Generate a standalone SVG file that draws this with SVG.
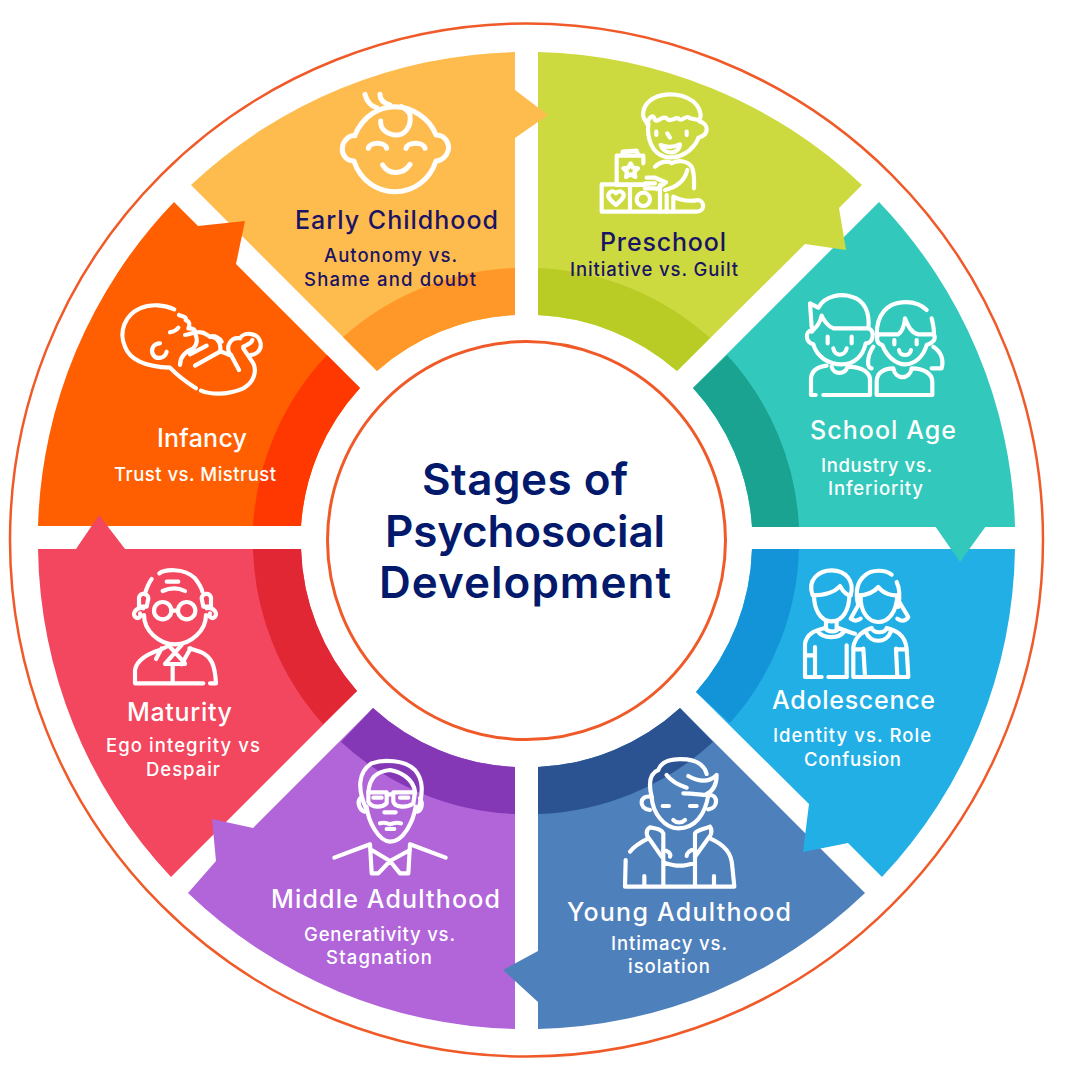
<svg xmlns="http://www.w3.org/2000/svg" width="1081" height="1081" viewBox="0 0 1081 1081">
<style>
text{font-family:Inter,"Liberation Sans",sans-serif;text-anchor:start}
.h{font-size:25px;font-weight:500}
.s{font-size:18.5px;font-weight:500}
.t{font-size:44px;font-weight:600;fill:#03196b}
.d{fill:#1b1464}
.w{fill:#fff}
.i{fill:none;stroke:#fff;stroke-width:12.5;stroke-linecap:round;stroke-linejoin:round}
</style>
<rect width="1081" height="1081" fill="#fff"/>
<circle cx="526.5" cy="540" r="516.5" fill="none" stroke="#f05a28" stroke-width="2.5"/>

<g id="school-age">
<path fill="#32c9bc" d="M879,202A488.5,488.5 0 0 1 1015,527H752A226,226 0 0 0 693,388Z"/>
<path fill="#1aa391" d="M727,355A273,273 0 0 1 799,527H752A226,226 0 0 0 693,388Z"/>
<g class="i" transform="translate(795,285) scale(.3333)">
<path d="M50,125L45,55L70,68C90,30 140,25 170,35C210,45 225,85 220,130H115C100,125 85,105 80,92C75,115 65,125 50,140"/>
<path d="M50,135C30,140 30,170 55,178C65,215 100,238 140,238C180,238 205,210 212,175C235,175 240,140 222,130"/>
<path d="M98,155V175M170,155V175M115,190C118,215 150,215 155,190"/>
<path d="M62,330H48V280C50,255 70,245 95,242M110,245C115,270 150,270 158,245C190,245 220,255 225,280V330H85"/>
<path d="M395,75C370,50 340,50 320,52C280,55 245,85 245,150M410,100C415,120 417,130 417,145M245,148H310C320,140 328,125 330,100C340,125 350,145 370,148H417"/>
<path d="M250,148C240,165 250,178 262,180C275,215 305,238 330,238C360,238 385,215 395,180C410,175 425,165 417,148"/>
<path d="M298,165V178M365,165V178M312,195C315,215 345,215 348,195"/>
<path d="M235,185C215,215 215,250 230,250M415,185C445,205 445,230 440,250H410"/>
<path d="M245,330V290C245,265 265,250 295,250C300,285 345,285 350,250C385,250 412,265 412,290V330Z"/>
</g>
<text class="h w" x="810" y="439" textLength="146">School Age</text>
<text class="s w" x="821" y="472" textLength="111">Industry vs.</text>
<text class="s w" x="828" y="495" textLength="95">Inferiority</text>
</g>

<g id="preschool">
<path fill="#cdda3f" d="M538,52A488.5,488.5 0 0 1 862,185L839,208L846,250L805,244L677,371A226,226 0 0 0 538,315Z"/>
<path fill="#b9cc26" d="M538,268A273,273 0 0 1 710,338L677,371A226,226 0 0 0 538,315Z"/>
<g class="i" transform="translate(590,85) scale(.3333)">
<path d="M175,115C150,100 155,60 190,40C230,20 290,25 320,60C335,80 335,100 325,105"/>
<path d="M170,115C180,95 190,85 195,105C205,115 215,90 230,100C240,115 255,95 265,100C275,115 290,85 300,100L325,105"/>
<path d="M175,115C170,160 185,205 225,215C270,225 310,195 325,160M330,110C355,115 360,150 325,158"/>
<path d="M199,140V150M290,140V150M232,145L240,158M212,180C235,190 255,185 270,178C270,205 225,215 212,180Z"/>
<path d="M80,300V212H160V235M98,210V200L140,197L145,210M80,300H160"/>
<path d="M122,235L129,248L144,250L133,261L136,276L122,268L108,276L111,261L100,250L115,248Z"/>
<path d="M35,298H120V380H35ZM120,380H320C345,380 345,350 325,345C300,350 270,345 250,335V380M120,298H175"/>
<path d="M78,360C60,345 50,335 57,325C65,315 75,320 78,325C82,320 92,315 100,325C105,335 95,345 78,360Z"/>
<circle cx="160" cy="343" r="20"/>
<path d="M210,300V380M230,330V380M195,245C210,230 235,225 245,235C260,225 290,225 305,245C315,265 312,290 312,310M292,255C285,285 265,305 225,315"/>
<path d="M170,278H195C210,285 222,290 228,292L200,312M165,295H195M165,310H195"/>
</g>
<text class="h d" x="600" y="251" textLength="126">Preschool</text>
<text class="s d" x="570" y="276" textLength="168">Initiative vs. Guilt</text>
</g>

<g id="early-childhood">
<path fill="#ffbc4e" d="M515,52A488.5,488.5 0 0 0 191,185L377,371A226,226 0 0 1 515,315V138L548,115L515,90Z"/>
<path fill="#ff9828" d="M515,268A273,273 0 0 0 343,337L377,371A226,226 0 0 1 515,315Z"/>
<g class="i" style="stroke-width:15" transform="translate(330,85) scale(.3333)">
<path d="M75,150C100,90 150,65 195,65C245,65 300,100 318,150C350,150 358,180 355,195C350,215 335,228 318,228C300,285 250,320 195,320C140,320 90,285 72,228C50,228 35,210 37,190C38,165 60,150 75,152"/>
<path d="M152,108C150,135 175,150 200,150C225,150 245,125 240,90C235,75 225,70 215,65M105,28C110,50 125,65 140,68M150,28C150,45 160,55 180,60"/>
<path d="M115,190C120,170 165,170 170,190M228,190C235,170 280,170 285,190M158,240C175,270 220,270 240,238"/>
</g>
<text class="h d" x="295" y="229" textLength="203">Early Childhood</text>
<text class="s d" x="324" y="262" textLength="133">Autonomy vs.</text>
<text class="s d" x="304" y="286" textLength="172">Shame and doubt</text>
</g>

<g id="infancy">
<path fill="#ff5f00" d="M38,526A488.5,488.5 0 0 1 174,202L198,226L245,221L236,264L360,388A226,226 0 0 0 301,526Z"/>
<path fill="#ff3700" d="M253,526A273,273 0 0 1 327,355L360,388A226,226 0 0 0 301,526Z"/>
<g class="i" transform="translate(115,295) scale(.3333)">
<path d="M178,43C150,30 110,25 75,40C30,60 10,110 30,155C45,195 90,215 165,218C190,245 215,262 243,280"/>
<path d="M258,287C290,300 340,300 385,280C420,260 425,225 415,205L385,160"/>
<path d="M192,60C205,65 215,65 212,75C225,80 225,90 220,100C235,100 240,105 240,110M210,120C225,118 240,110 250,112C265,108 275,120 285,125C300,120 315,130 320,140"/>
<path d="M165,112C175,110 185,105 190,98M135,145C115,145 105,165 115,180C125,195 150,190 155,170"/>
<path d="M240,115C250,135 245,150 235,160C210,170 195,185 195,210M275,152L225,178M240,212L315,170C325,170 335,178 345,180"/>
<path d="M345,180C330,150 350,125 375,130C385,110 430,110 437,145C440,170 420,180 405,180M347,178L372,225M385,155C395,150 410,145 412,135M285,125C310,125 320,150 315,170"/>
</g>
<text class="h w" x="157" y="447" textLength="90">Infancy</text>
<text class="s w" x="114" y="481" textLength="162">Trust vs. Mistrust</text>
</g>

<g id="maturity">
<path fill="#f2475e" d="M38,549H76L99,515L125,549H301A226,226 0 0 0 357,691L171,877A488.5,488.5 0 0 1 38,549Z"/>
<path fill="#e12733" d="M253,549H301A226,226 0 0 0 357,691L323,724A273,273 0 0 1 253,549Z"/>
<g class="i" transform="translate(120,565) scale(.3333)">
<path d="M118,25C130,15 190,5 225,40C240,60 245,70 247,80M95,42C85,55 80,70 75,85M140,50H175M128,78C150,68 175,68 195,78"/>
<path d="M57,125V98C60,80 85,85 85,100L80,125ZM70,130C50,125 35,145 45,155C55,165 65,155 60,145"/>
<path d="M273,125V98C270,80 245,85 245,100L250,125ZM260,130C280,125 295,145 285,155C275,165 265,155 270,145"/>
<circle cx="128" cy="137" r="26"/><circle cx="200" cy="137" r="26"/>
<path d="M154,137H174M72,150C72,195 115,238 165,238C215,238 258,195 258,150"/>
<path d="M45,355V315C50,285 85,265 120,255L150,240M125,250L108,282M145,240L195,295M185,240L135,297H195M158,300V355M208,250L240,260C275,275 285,300 288,355H270M212,250L185,298M45,355H250"/>
</g>
<text class="h w" x="127" y="721" textLength="105">Maturity</text>
<text class="s w" x="106" y="752" textLength="154">Ego integrity vs</text>
<text class="s w" x="146" y="776" textLength="74">Despair</text>
</g>

<g id="middle-adulthood">
<path fill="#b165d9" d="M515,1029A488.5,488.5 0 0 1 188,893L216,861L212,819L253,828L373,708A226,226 0 0 0 515,767Z"/>
<path fill="#8438b5" d="M515,814A273,273 0 0 1 341,742L373,708A226,226 0 0 0 515,767Z"/>
<g class="i" transform="translate(325,755) scale(.3333)">
<path d="M125,165C95,100 100,50 140,25C175,12 240,15 270,45C295,75 295,110 280,165M130,110C135,70 150,50 195,45C225,50 265,70 270,110"/>
<path d="M130,112H185V145C170,160 140,158 130,140ZM205,112H270L265,145C245,160 210,158 205,140ZM185,118H205M145,128H170M225,128H250"/>
<path d="M105,130C95,145 105,165 118,170M285,130C295,145 290,165 278,170M125,155C130,200 160,258 195,260C235,260 265,200 272,155"/>
<path d="M178,172H212M165,205C180,200 185,205 195,208C205,205 215,200 228,205M185,222H208"/>
<path d="M28,308L135,268M362,308L255,268M135,268L140,355L160,355L195,318L225,355H250L255,268M140,285L195,318L255,285"/>
</g>
<text class="h w" x="271" y="908" textLength="229">Middle Adulthood</text>
<text class="s w" x="304" y="941" textLength="151">Generativity vs.</text>
<text class="s w" x="326" y="964" textLength="106">Stagnation</text>
</g>

<g id="young-adulthood">
<path fill="#4e80bc" d="M538,1029A488.5,488.5 0 0 0 865,893L680,708A226,226 0 0 1 538,767V951L503,970L538,1002Z"/>
<path fill="#2b5291" d="M538,814A273,273 0 0 0 713,742L680,708A226,226 0 0 1 538,767Z"/>
<g class="i" transform="translate(615,750) scale(.3333)">
<path d="M110,140C100,100 105,70 130,60C140,30 180,25 215,28C250,32 270,50 275,72M155,75C170,95 190,105 215,113M220,78C250,95 280,100 305,75C305,105 295,125 270,135C250,133 225,130 205,130"/>
<path d="M110,140C112,190 150,235 190,235C240,235 270,195 280,135M105,140C75,135 68,175 105,180M285,135C310,135 310,175 280,178"/>
<path d="M143,168H162M225,168H245M175,210C185,220 200,220 210,210"/>
<path d="M105,232C90,240 95,260 102,265L140,320M105,232C135,238 140,240 145,250V300C155,300 170,310 165,320M285,230C265,238 245,240 240,250V300C225,298 215,310 215,318M285,230C295,245 285,260 280,265L240,320"/>
<path d="M45,305C60,285 80,275 100,265M285,265C330,285 350,310 352,350L358,410H30L32,330M145,300V410M240,300V410M147,338C185,350 205,350 240,338M88,378V410M297,378V410"/>
</g>
<text class="h w" x="567" y="921" textLength="224">Young Adulthood</text>
<text class="s w" x="611" y="950" textLength="116">Intimacy vs.</text>
<text class="s w" x="628" y="973" textLength="82">isolation</text>
</g>

<g id="adolescence">
<path fill="#22afe5" d="M1015,549A488.5,488.5 0 0 1 882,877L848,843L803,852L809,804L696,692A226,226 0 0 0 752,549Z"/>
<path fill="#1494d8" d="M799,549A273,273 0 0 1 730,723L696,692A226,226 0 0 0 752,549Z"/>
<g class="i" transform="translate(790,562) scale(.3333)">
<path d="M68,100C50,50 90,25 125,25C165,25 195,55 182,100M68,100C100,100 130,95 150,72C160,90 170,100 182,100M72,100C72,140 90,178 125,178C160,178 178,140 178,100M108,178V198M140,178V198"/>
<path d="M45,345V245C50,215 75,205 105,198C115,212 140,212 145,198C160,205 180,210 195,215M85,210C100,230 145,230 160,212M75,255V345M45,280H75M45,345H95M115,345H170"/>
<path d="M305,38C285,22 245,22 225,40C200,60 195,90 205,130M320,60C330,80 330,105 325,135M205,100C230,100 250,92 265,75C280,95 305,102 325,100M212,100C210,150 235,180 265,180C295,180 320,150 322,100"/>
<path d="M210,120L182,170C195,180 205,175 212,170M325,115L355,165C345,180 335,178 322,170"/>
<path d="M190,345V255C195,225 220,205 245,198C250,215 285,215 290,198C315,205 345,215 350,260L355,345M228,210C240,245 290,245 302,210M220,260L225,345M190,262H220M318,260L322,345M318,262H350M255,345H355M190,345H250M170,250V345"/>
</g>
<text class="h w" x="772" y="709" textLength="163">Adolescence</text>
<text class="s w" x="773" y="742" textLength="158">Identity vs. Role</text>
<text class="s w" x="804" y="766" textLength="97">Confusion</text>
</g>

<path id="school-age-pointer" fill="#32c9bc" d="M935,526L960,562L986,526Z"/>

<g id="center">
<circle cx="526.5" cy="540.5" r="199" fill="#fff" stroke="#f05a28" stroke-width="3"/>
<text class="t" x="422" y="495" textLength="206">Stages of</text>
<text class="t" x="385" y="547" textLength="280">Psychosocial</text>
<text class="t" x="379" y="598" textLength="292">Development</text>
</g>
</svg>
